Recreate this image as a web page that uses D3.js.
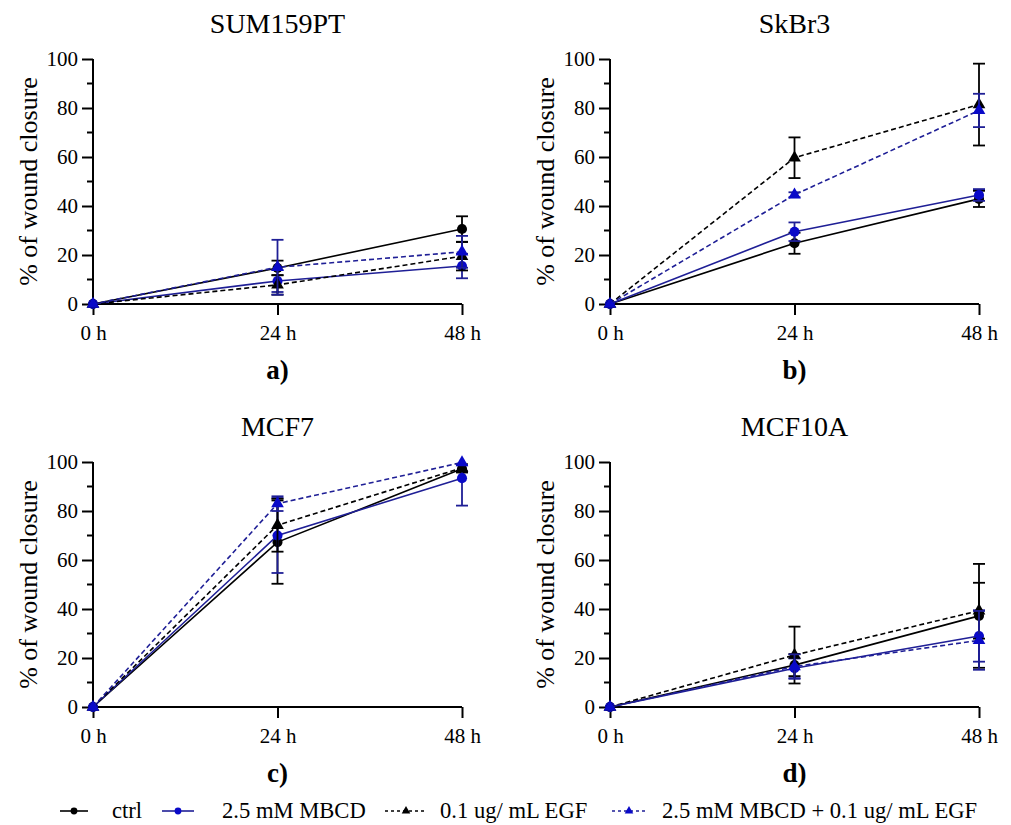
<!DOCTYPE html>
<html>
<head>
<meta charset="utf-8">
<script src="https://cdn.jsdelivr.net/npm/d3@7"></script>
<style>
  html, body { margin: 0; padding: 0; background: #fff; }
  svg, svg text { font-family: "Times New Roman", "Liberation Serif", Tinos, "DejaVu Serif", serif !important; }
</style>
</head>
<body>
<svg id="chart" width="1011" height="825"></svg>
<script>
// ---- data ----
const timepoints = [0, 24, 48];
const timeLabels = ["0 h", "24 h", "48 h"];
const yTicks = [0, 20, 40, 60, 80, 100];
const yMinorTicks = [10, 30, 50, 70, 90];
const panelTitles = ["SUM159PT", "SkBr3", "MCF7", "MCF10A"];
const panelLetters = ["a)", "b)", "c)", "d)"];
const seriesNames = ["ctrl", "2.5 mM MBCD", "0.1 ug/ mL EGF", "2.5 mM MBCD + 0.1 ug/ mL EGF"];

// means per panel, per series (ctrl, MBCD, EGF, MBCD+EGF)
const sumMeans   = [[0, 14.7, 30.6], [0, 9.4, 15.5], [0, 7.8, 19.5], [0, 15.0, 21.3]];
const sumErr     = [[0, 3.0, 5.2],   [0, 4.5, 5.0],  [0, 4.0, 5.8],  [0, 11.2, 6.5]];
const skMeans    = [[0, 24.8, 42.9], [0, 29.5, 44.5], [0, 59.7, 81.4], [0, 44.6, 79.0]];
const skErr      = [[0, 4.3, 3.3],   [0, 3.8, 2.4],   [0, 8.3, 16.7],  [0, 1.0, 6.8]];
const mcf7Means  = [[0, 67.3, 97.2], [0, 70.0, 93.4], [0, 74.2, 97.6], [0, 83.0, 99.8]];
const mcf7Err    = [[0, 17.0, 1.5],  [0, 15.3, 11.2], [0, 10.8, 1.5],  [0, 3.0, 1.0]];
const mcf10Means = [[0, 17.1, 37.2], [0, 15.8, 29.0], [0, 21.2, 39.3], [0, 16.5, 27.2]];
const mcf10Err   = [[0, 4.5, 21.2],  [0, 4.0, 10.5],  [0, 11.6, 11.4], [0, 5.0, 12.0]];

const panelMeans = [sumMeans, skMeans, mcf7Means, mcf10Means];
const panelErrs = [sumErr, skErr, mcf7Err, mcf10Err];

// ---- styles ----
const FONT = '"Times New Roman", "Liberation Serif", Tinos, "DejaVu Serif", serif';
const BLACK = "#000000";
const NAVY = "#1f1f96";
const BLUE = "#0a0ac8";
const seriesStyle = [
  { line: BLACK, fill: BLACK, dash: null, marker: "circle" },
  { line: NAVY, fill: BLUE, dash: null, marker: "circle" },
  { line: BLACK, fill: BLACK, dash: "5,3", marker: "triangle" },
  { line: NAVY, fill: BLUE, dash: "5,3", marker: "triangle" }
];

const svg = d3.select("#chart").attr("font-family", FONT);
const W = 369, H = 245;
const origins = [[93, 59], [610, 59], [93, 462], [610, 462]];

const x = d3.scaleLinear().domain([0, 48]).range([0, W]);
const y = d3.scaleLinear().domain([0, 100]).range([H, 0]);

const symCircle = d3.symbol().type(d3.symbolCircle).size(80);
const symTri = d3.symbol().type(d3.symbolTriangle).size(70);

panelTitles.forEach((title, p) => {
  const [ox, oy] = origins[p];
  const g = svg.append("g").attr("transform", `translate(${ox},${oy})`);

  g.append("text").attr("x", W / 2).attr("y", -26)
    .attr("text-anchor", "middle").attr("font-size", 28).text(title);
  g.append("text").attr("x", W / 2).attr("y", H + 75)
    .attr("text-anchor", "middle").attr("font-size", 27).attr("font-weight", "bold")
    .text(panelLetters[p]);
  g.append("text").attr("transform", `translate(-56,${H / 2}) rotate(-90)`)
    .attr("text-anchor", "middle").attr("font-size", 26).text("% of wound closure");

  const yAxis = d3.axisLeft(y).tickValues(yTicks).tickSize(11).tickPadding(4);
  const ya = g.append("g").call(yAxis).attr("font-family", FONT);
  ya.select(".domain").remove();
  ya.selectAll(".tick line").attr("stroke", "#000").attr("stroke-width", 2);
  ya.selectAll(".tick text").attr("font-size", 21).attr("fill", "#000");
  g.append("g").selectAll("line").data(yMinorTicks).join("line")
    .attr("x1", -6).attr("x2", 0).attr("y1", d => y(d)).attr("y2", d => y(d))
    .attr("stroke", "#000").attr("stroke-width", 2);

  const xAxis = d3.axisBottom(x).tickValues(timepoints).tickFormat((d, i) => timeLabels[i])
    .tickSize(11).tickPadding(10);
  const xa = g.append("g").attr("transform", `translate(0,${H})`).call(xAxis).attr("font-family", FONT);
  xa.select(".domain").remove();
  xa.selectAll(".tick line").attr("stroke", "#000").attr("stroke-width", 2);
  xa.selectAll(".tick text").attr("font-size", 21).attr("fill", "#000");

  g.append("line").attr("x1", 0).attr("x2", W).attr("y1", H).attr("y2", H)
    .attr("stroke", "#000").attr("stroke-width", 2);
  g.append("line").attr("x1", 0).attr("x2", 0).attr("y1", y(100)).attr("y2", H)
    .attr("stroke", "#000").attr("stroke-width", 2);

  const means = panelMeans[p], errs = panelErrs[p];
  const line = d3.line().x((d, i) => x(timepoints[i])).y(d => y(d));
  const [yMin, yMax] = y.domain();

  means.forEach((vals, s) => {
    const st = seriesStyle[s];
    const sg = g.append("g");
    vals.forEach((v, i) => {
      const e = errs[s][i];
      if (e <= 0) return;
      const cx = x(timepoints[i]);
      const lo = Math.max(yMin, v - e), hi = Math.min(yMax, v + e);
      sg.append("line").attr("x1", cx).attr("x2", cx).attr("y1", y(lo)).attr("y2", y(hi))
        .attr("stroke", st.line).attr("stroke-width", 1.8);
      [v - e, v + e].filter(ev => ev >= yMin && ev <= yMax).forEach(ev => {
        sg.append("line").attr("x1", cx - 6).attr("x2", cx + 6).attr("y1", y(ev)).attr("y2", y(ev))
          .attr("stroke", st.line).attr("stroke-width", 1.8);
      });
    });
    sg.append("path").attr("d", line(vals)).attr("fill", "none")
      .attr("stroke", st.line).attr("stroke-width", 1.6)
      .attr("stroke-dasharray", st.dash);
    sg.selectAll("path.m").data(vals).join("path").attr("class", "m")
      .attr("transform", (d, i) => `translate(${x(timepoints[i])},${y(d)})`)
      .attr("d", st.marker === "circle" ? symCircle() : symTri())
      .attr("fill", st.fill);
  });
});

// ---- legend ----
const legendY = 811;
const legendItems = [
  { x0: 60, w: 28, tx: 112 },
  { x0: 162, w: 32, tx: 222 },
  { x0: 385, w: 42, tx: 440 },
  { x0: 612, w: 34, tx: 662 }
];
const legSymC = d3.symbol().type(d3.symbolCircle).size(36);
const legSymT = d3.symbol().type(d3.symbolTriangle).size(32);
seriesNames.forEach((name, s) => {
  const st = seriesStyle[s];
  const it = legendItems[s];
  const lg = svg.append("g");
  lg.append("line").attr("x1", it.x0).attr("x2", it.x0 + it.w).attr("y1", legendY).attr("y2", legendY)
    .attr("stroke", st.line).attr("stroke-width", 1.6).attr("stroke-dasharray", st.dash ? "3,3" : null);
  lg.append("path").attr("transform", `translate(${it.x0 + it.w / 2},${legendY})`)
    .attr("d", st.marker === "circle" ? legSymC() : legSymT()).attr("fill", st.fill);
  lg.append("text").attr("x", it.tx).attr("y", legendY + 7).attr("font-size", 22.6).text(name);
});
</script>
</body>
</html>
